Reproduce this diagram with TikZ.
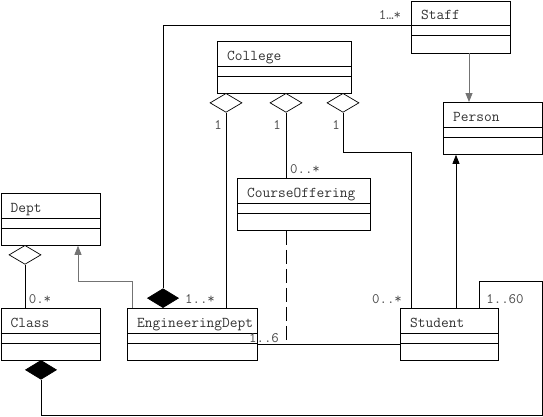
\documentclass[tikz,border=0pt]{standalone}
\usetikzlibrary{arrows.meta,shapes.geometric}
\definecolor{txt}{gray}{0.2}
\definecolor{lbl}{gray}{0.3}
\definecolor{genline}{gray}{0.45}
\tikzset{
  box/.style={draw, inner sep=0pt, minimum height=52pt, line width=0.8pt},
  nametext/.style={inner sep=0pt, text=txt, font=\ttfamily\fontsize{15}{18}\selectfont},
  mult/.style={inner sep=0pt, text=lbl, font=\ttfamily\fontsize{14.5}{18}\selectfont},
  hdiam/.style={diamond, draw, fill=white, inner sep=0pt, minimum width=32pt, minimum height=19pt, line width=0.7pt},
  bdiam/.style={diamond, draw, fill=black, inner sep=0pt, minimum width=31pt, minimum height=19pt, line width=0.7pt},
  gen/.style={-{Triangle[width=7pt,length=9pt]}},
  conn/.style={line width=0.8pt},
}
\newcommand{\umlbox}[5]{%
  \node[box, minimum width=#4pt, anchor=north west] (#1) at (#2,#3) {};
  \draw[line width=0.8pt] ([yshift=-25pt]#1.north west) -- ([yshift=-25pt]#1.north east);
  \draw[line width=0.8pt] ([yshift=-35pt]#1.north west) -- ([yshift=-35pt]#1.north east);
  \node[nametext, anchor=base west] (#1-t) at ([xshift=10pt,yshift=-19pt]#1.north west) {#5};
}
\begin{document}
\begin{tikzpicture}[x=1pt,y=-1pt]
\useasboundingbox (0,0) rectangle (543,416);
\fill[white] (0,0) rectangle (543,416);

\umlbox{staff}{411}{0.5}{99}{Staff}
\umlbox{college}{217}{41}{134}{College}
\umlbox{person}{443}{102}{99}{Person}
\umlbox{course}{237}{178}{133}{CourseOffering}
\umlbox{dept}{0.5}{193}{99}{Dept}
\umlbox{class}{0.5}{308}{99}{Class}
\umlbox{eng}{127}{308}{130}{EngineeringDept}
\umlbox{student}{400}{308}{98}{Student}

% Staff -- EngineeringDept (composition)
\node[bdiam, anchor=south] (engd) at (163,308) {};
\draw[conn] ([yshift=-25pt]staff.north west) -| (engd.north);

% College aggregations
\node[hdiam, anchor=north] (cd1) at (226,93) {};
\node[hdiam, anchor=north] (cd2) at (286,93) {};
\node[hdiam, anchor=north] (cd3) at (343,93) {};
\draw[conn] (cd1.south) -- (cd1.south |- eng.north);
\draw[conn] (cd2.south) -- (cd2.south |- course.north);
\coordinate (bendS) at (411,152);
\draw[conn] (cd3.south) |- (bendS) -- (bendS |- student.north);

% Dept -- Class aggregation
\node[hdiam, anchor=north] (dd) at (25,245) {};
\draw[conn] (dd.south) -- (dd.south |- class.north);

% EngineeringDept -> Dept generalization
\coordinate (g1) at (132,281);
\coordinate (g2) at (78,281);
\draw[conn, genline, gen] (g1 |- eng.north) -- (g1) -- (g2) -- (g2 |- dept.south);

% Class -- Student composition
\node[bdiam, anchor=north] (cld) at (41,360) {};
\coordinate (r1) at (542,415);
\coordinate (r2) at (479,281);
\draw[conn] (cld.south) |- (r1) |- (r2) -- (r2 |- student.north);

% EngineeringDept -- Student association
\coordinate (ea) at ([yshift=-36pt]eng.north east);
\draw[conn] (ea) -- (ea -| student.west);

% CourseOffering association class (dashed)
\coordinate (dl) at (286,344);
\draw[conn, dash pattern=on 14pt off 5pt] (dl |- course.south) -- (dl);

% Generalizations to Person
\coordinate (sp) at (469,0);
\draw[conn, genline, gen] (sp |- staff.south) -- (sp |- person.north);
\coordinate (stp) at (456,0);
\draw[conn, gen] (stp |- student.north) -- (stp |- person.south);

% Multiplicities
\node[mult] (m1) at (390,15) {1…*};
\node[mult] (m2) at (218,125) {1};
\node[mult] (m3) at (277,125) {1};
\node[mult] (m4) at (336,125) {1};
\node[mult] (m5) at (305,169) {0..*};
\node[mult] (m6) at (40,299) {0.*};
\node[mult] (m7) at (200,299) {1..*};
\node[mult] (m8) at (264,338) {1..6};
\node[mult] (m9) at (387,299) {0..*};
\node[mult] (m10) at (505,299) {1..60};
\end{tikzpicture}
\end{document}
